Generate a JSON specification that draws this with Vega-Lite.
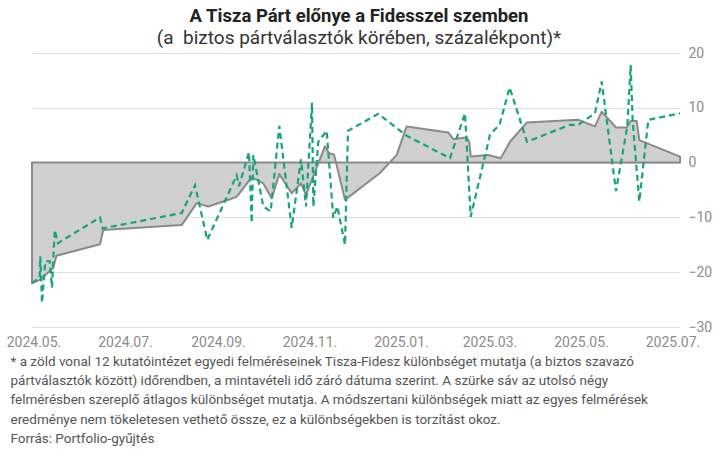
{
  "$schema": "https://vega.github.io/schema/vega-lite/v6.json",
  "width": 648,
  "height": 274,
  "autosize": "none",
  "padding": {"left": 32, "top": 53, "right": 38, "bottom": 127},
  "background": "white",
  "title": {
    "text": "A Tisza Párt előnye a Fidesszel szemben",
    "subtitle": "(a\u00a0 biztos pártválasztók körében, százalékpont)*",
    "anchor": "middle",
    "dx": 3,
    "offset": -2,
    "font": "Roboto",
    "fontSize": 18.5,
    "fontWeight": "bold",
    "color": "#222222",
    "subtitleFont": "Roboto",
    "subtitleFontSize": 19,
    "subtitleColor": "#333333",
    "subtitlePadding": 4
  },
  "config": {
    "view": {"stroke": null},
    "axis": {
      "labelFont": "Roboto",
      "labelFontSize": 14,
      "labelColor": "#8c8c8c",
      "domain": false,
      "ticks": false,
      "gridColor": "#d8e2e0",
      "gridWidth": 1
    }
  },
  "datasets": {
    "avg": [
      {"date": "2024-04-30T00:00", "value": -22.0},
      {"date": "2024-05-05T03:00", "value": -21.4},
      {"date": "2024-05-14T00:00", "value": -19.3},
      {"date": "2024-05-16T08:00", "value": -17.0},
      {"date": "2024-06-14T08:00", "value": -14.9},
      {"date": "2024-06-16T12:00", "value": -12.3},
      {"date": "2024-08-07T19:00", "value": -11.4},
      {"date": "2024-08-17T19:00", "value": -7.4},
      {"date": "2024-08-25T12:00", "value": -8.0},
      {"date": "2024-09-09T00:00", "value": -6.7},
      {"date": "2024-09-13T12:00", "value": -6.2},
      {"date": "2024-09-23T12:00", "value": -2.7},
      {"date": "2024-10-01T05:00", "value": -3.8},
      {"date": "2024-10-06T19:00", "value": -6.5},
      {"date": "2024-10-11T21:00", "value": -2.1},
      {"date": "2024-10-20T03:00", "value": -5.6},
      {"date": "2024-10-26T08:00", "value": -3.8},
      {"date": "2024-10-29T16:00", "value": -5.9},
      {"date": "2024-11-11T08:00", "value": 3.0},
      {"date": "2024-11-14T00:00", "value": 1.7},
      {"date": "2024-11-17T08:00", "value": 1.5},
      {"date": "2024-11-24T16:00", "value": -6.8},
      {"date": "2024-12-18T00:00", "value": -1.9},
      {"date": "2024-12-29T03:00", "value": 1.4},
      {"date": "2025-01-04T19:00", "value": 6.6},
      {"date": "2025-02-01T12:00", "value": 5.5},
      {"date": "2025-02-04T21:00", "value": 4.3},
      {"date": "2025-02-13T19:00", "value": 4.6},
      {"date": "2025-02-15T12:00", "value": 3.8},
      {"date": "2025-02-16T12:00", "value": 1.1},
      {"date": "2025-02-28T05:00", "value": 1.4},
      {"date": "2025-03-08T12:00", "value": 0.8},
      {"date": "2025-03-14T16:00", "value": 3.8},
      {"date": "2025-03-25T19:00", "value": 7.3},
      {"date": "2025-04-29T05:00", "value": 7.8},
      {"date": "2025-05-10T08:00", "value": 6.6},
      {"date": "2025-05-14T19:00", "value": 9.3},
      {"date": "2025-05-24T08:00", "value": 6.4},
      {"date": "2025-05-31T12:00", "value": 6.4},
      {"date": "2025-06-03T03:00", "value": 7.6},
      {"date": "2025-06-07T03:00", "value": 7.6},
      {"date": "2025-06-08T21:00", "value": 4.1},
      {"date": "2025-07-06T00:00", "value": 1.1}
    ],
    "polls": [
      {"date": "2024-04-30T00:00", "value": -22.0},
      {"date": "2024-05-05T03:00", "value": -21.0},
      {"date": "2024-05-05T13:00", "value": -17.1},
      {"date": "2024-05-06T16:00", "value": -25.6},
      {"date": "2024-05-08T21:00", "value": -18.0},
      {"date": "2024-05-11T19:00", "value": -18.0},
      {"date": "2024-05-13T08:00", "value": -22.8},
      {"date": "2024-05-15T03:00", "value": -12.3},
      {"date": "2024-05-17T08:00", "value": -14.7},
      {"date": "2024-06-14T08:00", "value": -10.0},
      {"date": "2024-06-16T03:00", "value": -12.0},
      {"date": "2024-08-07T19:00", "value": -9.2},
      {"date": "2024-08-16T16:00", "value": -4.1},
      {"date": "2024-08-24T21:00", "value": -14.1},
      {"date": "2024-09-13T11:00", "value": -2.3},
      {"date": "2024-09-15T00:00", "value": -4.3},
      {"date": "2024-09-21T16:00", "value": 1.9},
      {"date": "2024-09-23T11:00", "value": -11.0},
      {"date": "2024-09-24T13:00", "value": 1.4},
      {"date": "2024-10-01T05:00", "value": -8.0},
      {"date": "2024-10-06T03:00", "value": -8.9},
      {"date": "2024-10-11T21:00", "value": 6.7},
      {"date": "2024-10-20T03:00", "value": -11.9},
      {"date": "2024-10-26T08:00", "value": 0.6},
      {"date": "2024-10-29T16:00", "value": -8.0},
      {"date": "2024-11-02T16:00", "value": 10.9},
      {"date": "2024-11-03T13:00", "value": -8.0},
      {"date": "2024-11-06T21:00", "value": 3.8},
      {"date": "2024-11-12T11:00", "value": 5.8},
      {"date": "2024-11-16T21:00", "value": -10.1},
      {"date": "2024-11-19T13:00", "value": -8.0},
      {"date": "2024-11-24T16:00", "value": -15.0},
      {"date": "2024-11-26T16:00", "value": 5.8},
      {"date": "2024-12-16T21:00", "value": 8.9},
      {"date": "2025-01-04T19:00", "value": 4.9},
      {"date": "2025-02-02T16:00", "value": 0.8},
      {"date": "2025-02-12T16:00", "value": 9.0},
      {"date": "2025-02-16T11:00", "value": -9.9},
      {"date": "2025-03-01T08:00", "value": 5.1},
      {"date": "2025-03-07T16:00", "value": 6.9},
      {"date": "2025-03-14T11:00", "value": 13.7},
      {"date": "2025-03-26T00:00", "value": 3.8},
      {"date": "2025-04-23T16:00", "value": 6.9},
      {"date": "2025-04-29T05:00", "value": 6.9},
      {"date": "2025-05-10T08:00", "value": 9.0},
      {"date": "2025-05-14T19:00", "value": 14.8},
      {"date": "2025-05-24T08:00", "value": -5.2},
      {"date": "2025-05-31T21:00", "value": 6.6},
      {"date": "2025-06-03T03:00", "value": 17.8},
      {"date": "2025-06-04T11:00", "value": 7.5},
      {"date": "2025-06-08T21:00", "value": -7.1},
      {"date": "2025-06-14T21:00", "value": 7.8},
      {"date": "2025-07-06T00:00", "value": 9.0}
    ]
  },
  "layer": [
    {
      "data": {"name": "avg"},
      "mark": {"type": "area", "fill": "#d0d0d0", "stroke": "#8a8a8a", "strokeWidth": 2, "strokeJoin": "round"},
      "encoding": {
        "x": {
          "field": "date",
          "type": "temporal",
          "scale": {"domain": [{"year": 2024, "month": 4, "date": 30}, {"year": 2025, "month": 7, "date": 6}], "nice": false},
          "axis": {
            "orient": "bottom",
            "grid": false,
            "format": "%Y.%m.",
            "values": [
              {"year": 2024, "month": 5, "date": 1},
              {"year": 2024, "month": 7, "date": 1},
              {"year": 2024, "month": 9, "date": 1},
              {"year": 2024, "month": 11, "date": 1},
              {"year": 2025, "month": 1, "date": 1},
              {"year": 2025, "month": 3, "date": 1},
              {"year": 2025, "month": 5, "date": 1},
              {"year": 2025, "month": 7, "date": 1}
            ],
            "labelPadding": 8,
            "labelFlush": false,
            "labelOverlap": false,
            "title": [
              "* a zöld vonal 12 kutatóintézet egyedi felméréseinek Tisza-Fidesz különbséget mutatja (a biztos szavazó",
              "pártválasztók között) időrendben, a mintavételi idő záró dátuma szerint. A szürke sáv az utolsó négy",
              "felmérésben szereplő átlagos különbséget mutatja. A módszertani különbségek miatt az egyes felmérések",
              "eredménye nem tökeletesen vethető össze, ez a különbségekben is torzítást okoz.",
              "\u00a0Forrás: Portfolio-gyűjtés"
            ],
            "titleFont": "Roboto",
            "titleFontSize": 13.5,
            "titleFontWeight": "normal",
            "titleColor": "#555555",
            "titleAnchor": "start",
            "titleAlign": "left",
            "titleBaseline": "top",
            "titleX": -22,
            "titleY": 27,
            "titleLineHeight": 19.4
          }
        },
        "y": {
          "field": "value",
          "type": "quantitative",
          "scale": {"domain": [-30, 20], "nice": false},
          "axis": {
            "orient": "right",
            "values": [-30, -25, -20, -15, -10, -5, 0, 5, 10, 15, 20],
            "labelAlign": "left",
            "labelPadding": 8,
            "title": null,
            "grid": true
          }
        },
        "y2": {"datum": 0}
      }
    },
    {
      "data": {"name": "polls"},
      "mark": {"type": "line", "color": "#17a37b", "strokeWidth": 2.2, "strokeDash": [6, 4]},
      "encoding": {
        "x": {"field": "date", "type": "temporal"},
        "y": {"field": "value", "type": "quantitative"}
      }
    }
  ]
}
